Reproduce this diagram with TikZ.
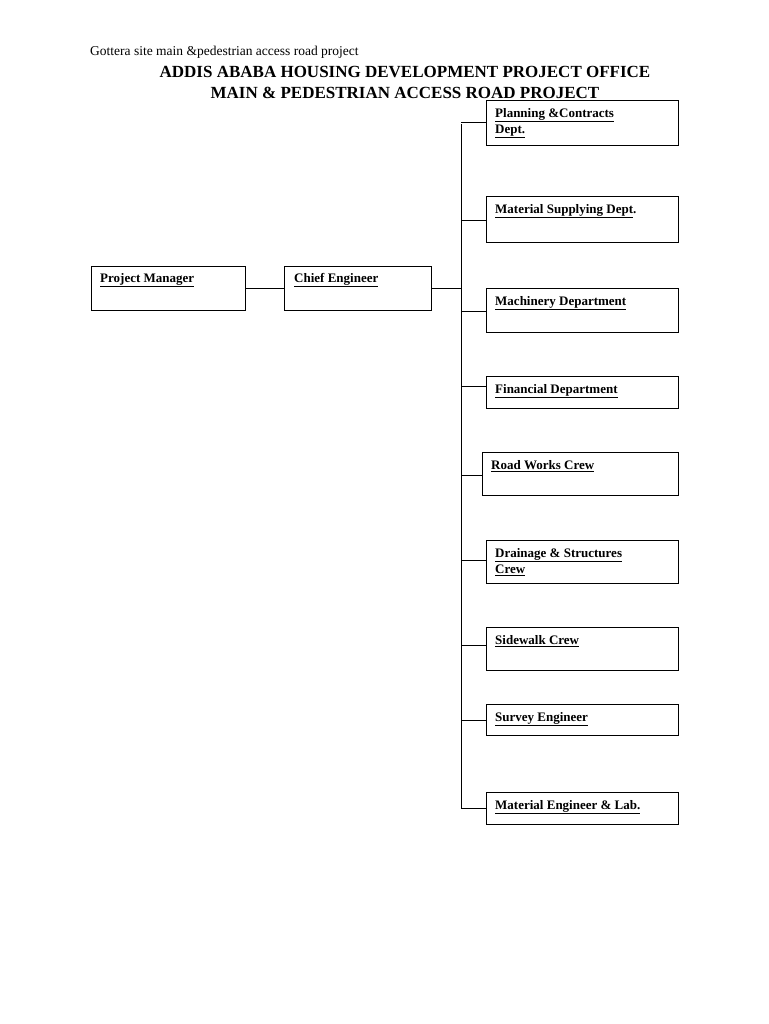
\documentclass[tikz,border=0pt]{standalone}
\usepackage{fontspec}
\setmainfont{Liberation Serif}
\newcommand{\ul}[1]{\underline{#1}}
\begin{document}
\begin{tikzpicture}[x=1pt,y=-1pt,
  bx/.style={draw,line width=0.6pt},
  lbl/.style={anchor=north west,font=\fontsize{13}{16}\selectfont\bfseries,align=left,inner sep=0pt},
  ln/.style={line width=0.6pt}]
\useasboundingbox (0,0) rectangle (768,1024);
\node[anchor=west,font=\fontsize{13.5}{15}\selectfont,inner sep=0pt] (t0) at (90,52) {Gottera site main \&pedestrian access road project};
\node[font=\fontsize{17}{18}\selectfont\bfseries,inner sep=0pt] (t1) at (405,72) {ADDIS ABABA HOUSING DEVELOPMENT PROJECT OFFICE};
\node[font=\fontsize{17}{18}\selectfont\bfseries,inner sep=0pt] (t2) at (405,93) {MAIN \& PEDESTRIAN ACCESS ROAD PROJECT};
\draw[bx] (91,266) rectangle (245,310); \node[lbl] (pm) at (100,273) {\ul{Project Manager}};
\draw[bx] (284,266) rectangle (431,310); \node[lbl] (ce) at (294,273) {\ul{Chief Engineer}};
\draw[ln] (245,288) -- (284,288);
\draw[ln] (431,288) -- (461,288);
\draw[ln] (461,124) -- (461,808);
\foreach \x/\a/\b/\by/\t in {
 486/100/145/122/{\ul{Planning \&Contracts}\\\ul{Dept.}},
 486/196/242/220/{\ul{Material Supplying Dept}.},
 486/288/332/311/{\ul{Machinery Department}},
 486/376/408/386/{\ul{Financial Department}},
 482/452/495/475/{\ul{Road Works Crew}},
 486/540/583/560/{\ul{Drainage \& Structures}\\\ul{Crew}},
 486/627/670/645/{\ul{Sidewalk Crew}},
 486/704/735/720/{\ul{Survey Engineer}},
 486/792/824/808/{\ul{Material Engineer \& Lab.}}}{
 \draw[bx] (\x,\a) rectangle (678,\b);
 \node[lbl] at (\x+9,\a+8) {\t};
 \draw[ln] (461,\by) -- (\x,\by);
}
\end{tikzpicture}
\end{document}
